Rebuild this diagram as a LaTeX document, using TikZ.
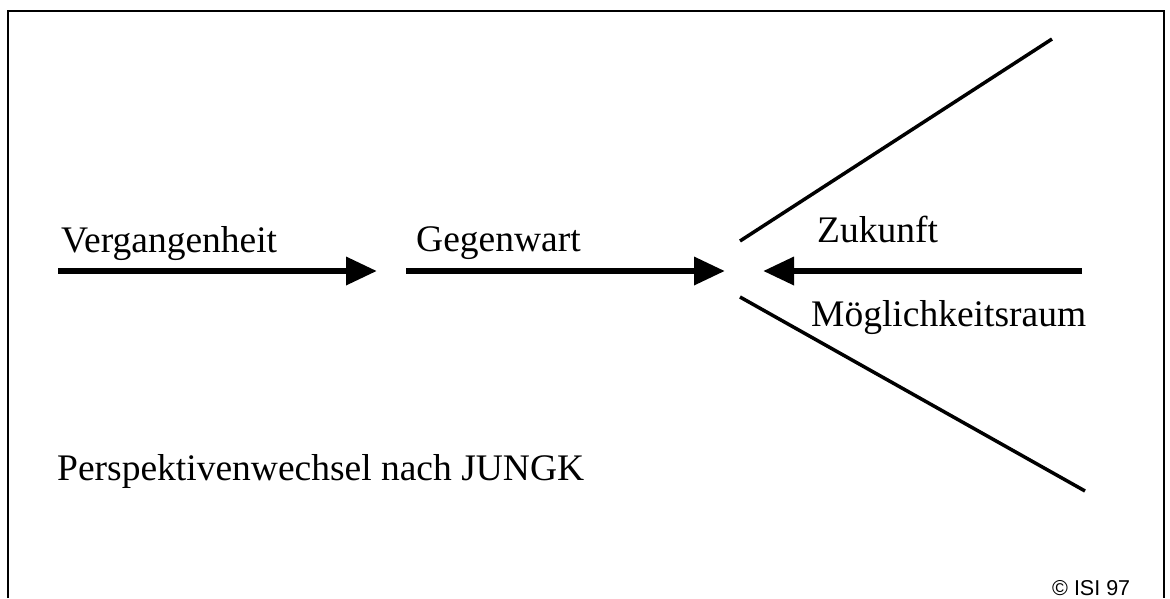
\documentclass[tikz,border=0pt]{standalone}
\usepackage{fontspec}
\setmainfont{Liberation Serif}
\newfontfamily\labelsans{Liberation Sans}
\usetikzlibrary{arrows.meta}

\tikzset{
  label text/.style={anchor=base west, inner sep=0pt, font=\fontsize{37.5}{44}\selectfont},
  time arrow/.style={line width=6.5pt, -{Triangle[length=31pt,width=27pt]}},
  fan line/.style={line width=3.5pt},
  frame line/.style={line width=2.5pt}
}

\begin{document}
\begin{tikzpicture}[x=1pt,y=-1pt]
  \useasboundingbox (0,0) rectangle (1170,598);

  % open frame (bottom edge runs off the page)
  \draw[frame line] (8,598) -- (8,11) -- (1164,11) -- (1164,598);

  % arrow end points
  \coordinate (pastA) at (58,271);
  \coordinate (pastB) at (377,271);
  \coordinate (nowA) at (406,271);
  \coordinate (nowB) at (725,271);
  \coordinate (futA) at (1082,271);
  \coordinate (futB) at (763,271);

  % cone of possibilities
  \coordinate (upA) at (740,241);
  \coordinate (upB) at (1052,39);
  \coordinate (loA) at (740,297);
  \coordinate (loB) at (1085,491);

  \draw[time arrow] (pastA) -- (pastB);
  \draw[time arrow] (nowA) -- (nowB);
  \draw[time arrow] (futA) -- (futB);

  \draw[fan line] (upA) -- (upB);
  \draw[fan line] (loA) -- (loB);

  % labels
  \node[label text] (past) at (61,252) {Vergangenheit};
  \node[label text] (now) at (416,251) {Gegenwart};
  \node[label text] (fut) at (817,242) {Zukunft};
  \node[label text] (space) at (811,326) {Möglichkeitsraum};
  \node[label text] (title) at (57,480) {Perspektivenwechsel nach JUNGK};
  \node[anchor=base west, inner sep=0pt, font=\labelsans\fontsize{21.5}{25}\selectfont] (copy) at (1052,595) {© ISI 97};
\end{tikzpicture}
\end{document}
